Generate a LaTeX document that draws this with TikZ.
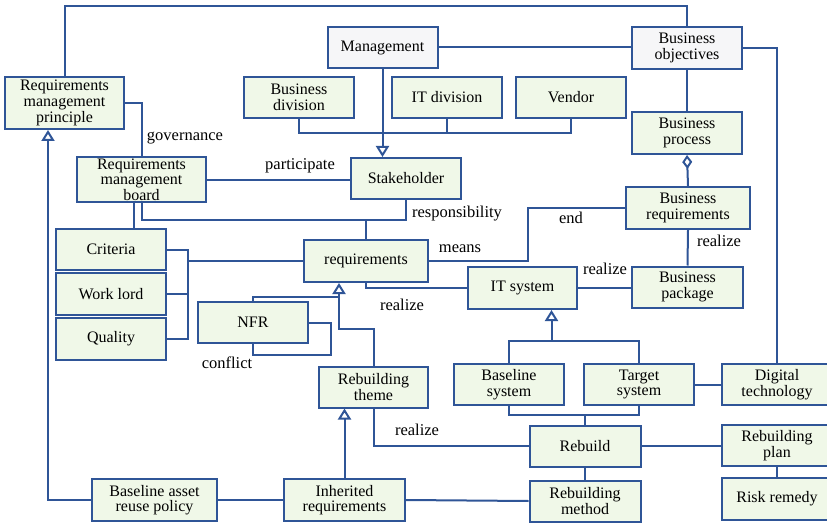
\documentclass[tikz,border=0pt]{standalone}
\usepackage{fontspec}
\setmainfont{Liberation Serif}
\usetikzlibrary{arrows.meta}

\definecolor{linkblue}{RGB}{47,85,151}
\definecolor{boxgreen}{RGB}{240,248,232}
\definecolor{boxgray}{RGB}{246,246,248}

\tikzset{
  box/.style={draw=linkblue, line width=2pt, fill=boxgreen, align=center,
    inner sep=1pt, minimum width=110, minimum height=41,
    font=\rmfamily\fontsize{16}{15.6}\selectfont},
  topbox/.style={box, fill=boxgray},
  link/.style={draw=linkblue, line width=2pt},
  gen/.style={link, -{Triangle[open, length=11pt, width=13pt]}},
  agg/.style={link, -{Diamond[open, length=14pt, width=10pt]}},
  tag/.style={font=\rmfamily\fontsize{16.5}{16}\selectfont, inner sep=0pt}
}

\begin{document}
\begin{tikzpicture}[x=1pt, y=-1pt]
    \useasboundingbox (0,0) rectangle (827,524);

    % Top row
    \node[topbox] (mgmt) at (382.5,47.5) {Management};
    \node[topbox, minimum height=42] (bobj) at (687,48) {Business\\objectives};
    \node[box, minimum width=119, minimum height=52] (rmp) at (64.5,103) {Requirements\\management\\principle};
    \node[box] (bdiv) at (299,97.5) {Business\\division};
    \node[box] (itdiv) at (447,97.5) {IT division};
    \node[box] (vendor) at (571,97.5) {Vendor};
    \node[box, minimum height=42] (bproc) at (687,133) {Business\\process};

    % Middle part
    \node[box, minimum width=129, minimum height=45] (rmb) at (141.5,179.5) {Requirements\\management\\board};
    \node[box] (stake) at (406,178.5) {Stakeholder};
    \node[box, minimum width=124, minimum height=42] (breq) at (688,208) {Business\\requirements};
    \node[box] (crit) at (111,249.5) {Criteria};
    \node[box, minimum height=42] (work) at (111,294) {Work lord};
    \node[box, minimum height=42] (qual) at (111,339) {Quality};
    \node[box, minimum width=124, minimum height=42] (req) at (366,261) {requirements};
    \node[box] (nfr) at (253,322.5) {NFR};
    \node[box, minimum width=109, minimum height=42] (itsys) at (522.5,288) {IT system};
    \node[box, minimum width=111] (bpkg) at (687.5,287) {Business\\package};

    % Lower part
    \node[box, minimum width=109] (theme) at (373.5,387) {Rebuilding\\theme};
    \node[box] (basesys) at (509,384.5) {Baseline\\system};
    \node[box] (tgtsys) at (639,384.5) {Target\\system};
    \node[box] (digi) at (777,384.5) {Digital\\technology};
    \node[box, minimum width=111] (rebuild) at (585,446) {Rebuild};
    \node[box] (plan) at (777,445.5) {Rebuilding\\plan};
    \node[box, minimum width=111] (method) at (585,501) {Rebuilding\\method};
    \node[box, minimum height=42] (risk) at (777,499) {Risk remedy};
    \node[box, minimum width=125, minimum height=42] (bpol) at (154.5,500) {Baseline asset\\reuse policy};
    \node[box, minimum width=121, minimum height=42] (inh) at (344.5,500) {Inherited\\requirements};

    % Helper points for the off-centre connector ends
    \coordinate (rmpgen) at ([xshift=-16.5pt]rmp.south);
    \coordinate (reqgen) at ([xshift=-27pt]req.south);
    \coordinate (itgen) at ([xshift=29pt]itsys.south);

    % Management and objectives
    \draw[link] (rmp.north) -- (rmp.north |- 0,6) -| (bobj.north);
    \draw[link] (mgmt.east) -- (mgmt.east -| bobj.west);
    \draw[link] (bobj) -- (bproc);
    \draw[link] (bobj.east) -| (digi.north);
    \draw[agg] (breq.north) -- (bproc.south);

    % Stakeholders
    \draw[link] (bdiv.south) -- ++(0,14) -| (vendor.south);
    \draw[link] (itdiv.south) -- ++(0,14);
    \draw[gen] (mgmt.south) -- (mgmt.south |- stake.north);
    \draw[link] (rmp.east) -| (rmb.north);
    \draw[link] (rmb.east) -- (rmb.east -| stake.west);
    \draw[link] (rmb.south) -- ++(0,17) coordinate (rb) -| (stake.south);
    \draw[link] (req.north) -- (req.north |- rb);
    \draw[link] ([xshift=-7.5pt]rmb.south) -- ([xshift=-7.5pt]rmb.south |- crit.north);

    % Criteria group
    \draw[link] (crit.east) -- ++(21,0) coordinate (cq) |- (qual.east);
    \draw[link] (work.east) -- (work.east -| cq);
    \draw[link] (req.west) -- (req.west -| cq);

    % Requirements and systems
    \draw[link] (req.east) -- ++(99,0) |- (breq.west);
    \draw[link] (req.south) |- (itsys.west);
    \draw[link] (breq.south) -- (bpkg.north);
    \draw[link] (itsys.east) -- (itsys.east -| bpkg.west);
    \draw[link] (nfr.north) |- (reqgen |- 0,297);
    \draw[gen] (theme.north) -- ++(0,-37) -| (reqgen);
    \draw[link] (nfr.east) -- ++(22,0) |- (nfr.south |- 0,355) -- (nfr.south);

    % Rebuild
    \draw[link] (basesys.north) -- ++(0,-22) coordinate (sb) -| (tgtsys.north);
    \draw[gen] (itgen |- sb) -- (itgen);
    \draw[link] (basesys.south) -- ++(0,9) coordinate (sr) -| (tgtsys.south);
    \draw[link] (rebuild.north) -- (rebuild.north |- sr);
    \draw[link] (tgtsys.east) -- (digi.west);
    \draw[link] (theme.south) |- (rebuild.west);
    \draw[link] (rebuild.east) -- (rebuild.east -| plan.west);
    \draw[link] (plan) -- (risk);
    \draw[link] (rebuild) -- (method);
    \draw[gen] (inh.north) -- (inh.north |- theme.south);
    \draw[link] (inh.east) -- (method.west);
    \draw[link] (bpol.east) -- (inh.west);
    \draw[gen] (bpol.west) -| (rmpgen);

    % Connector labels
    \node[tag] (lgov) at (185,138) {governance};
    \node[tag] (lpart) at (300,166) {participate};
    \node[tag] (lresp) at (457,214) {responsibility};
    \node[tag] (lmeans) at (460,249) {means};
    \node[tag] (lend) at (571,218) {end};
    \node[tag] (lrbr) at (719,241) {realize};
    \node[tag] (lrit) at (605,269) {realize};
    \node[tag] (lrreq) at (402,305) {realize};
    \node[tag] (lconf) at (227,363) {conflict};
    \node[tag] (lrth) at (417,430) {realize};
\end{tikzpicture}
\end{document}
